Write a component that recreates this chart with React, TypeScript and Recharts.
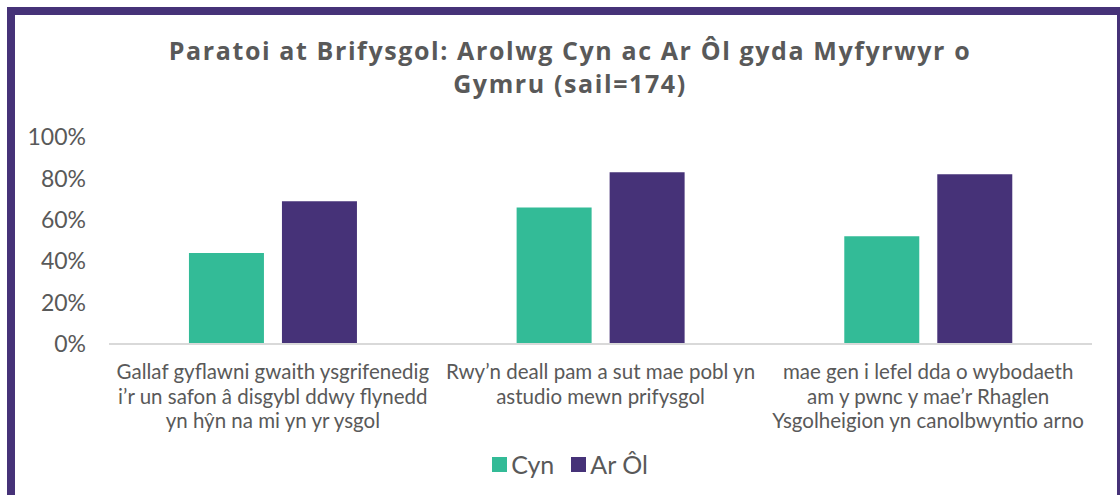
import React from "react";
import { BarChart, Bar, XAxis, YAxis, Legend } from "recharts";

const categories = [
  "Gallaf gyflawni gwaith ysgrifenedig\ni’r un safon â disgybl ddwy flynedd\nyn hŷn na mi yn yr ysgol",
  "Rwy’n deall pam a sut mae pobl yn\nastudio mewn prifysgol",
  "mae gen i lefel dda o wybodaeth\nam y pwnc y mae’r Rhaglen\nYsgolheigion yn canolbwyntio arno",
];
const cyn = [0.44, 0.66, 0.52];
const arOl = [0.69, 0.83, 0.82];
const yTicks = [0, 0.2, 0.4, 0.6, 0.8, 1];
const seriesKeys = ["cyn", "arOl"];
const seriesNames = ["Cyn", "Ar Ôl"];
const titleLines = ["Paratoi at Brifysgol: Arolwg Cyn ac Ar Ôl gyda Myfyrwyr o", "Gymru (sail=174)"];

const data = categories.map((c, i) => ({ name: c, cyn: cyn[i], arOl: arOl[i] }));

const GREEN = "#33BB97";
const PURPLE = "#463278";
const TEXT = "#595959";
const FONT = "Lato, 'Liberation Sans', sans-serif";
const TITLE_FONT = "'Open Sans', 'DejaVu Sans', sans-serif";

const CatTick = (props: any) => {
  const { x, y, payload } = props;
  const lines = String(payload.value).split("\n");
  return (
    <text x={x} y={y} textAnchor="middle" fill={TEXT} fontSize={20.5} fontFamily={FONT}>
      {lines.map((l, i) => (
        <tspan key={i} x={x} dy={i === 0 ? 35 : 24.5}>
          {l}
        </tspan>
      ))}
    </text>
  );
};

const LegendContent = (props: any) => {
  const payload = [...(props.payload || [])].sort(
    (a: any, b: any) => seriesKeys.indexOf(a.dataKey) - seriesKeys.indexOf(b.dataKey)
  );
  return (
    <div style={{ display: "flex", justifyContent: "center", alignItems: "center", gap: 17 }}>
      {payload.map((p: any) => (
        <div key={p.value} style={{ display: "flex", alignItems: "center" }}>
          <span style={{ display: "inline-block", width: 15, height: 15, background: p.color, marginRight: 4 }} />
          <span style={{ color: TEXT, fontFamily: FONT, fontSize: 25, lineHeight: "26px" }}>{p.value}</span>
        </div>
      ))}
    </div>
  );
};

export default function App() {
  return (
    <div style={{ position: "absolute", left: 0, top: 0, width: 1120, height: 495, overflow: "hidden", background: "#fff" }}>
      <div
        style={{
          position: "absolute",
          left: 7,
          top: 7,
          width: 1118,
          height: 600,
          boxSizing: "border-box",
          border: `8px solid ${PURPLE}`,
          background: "#fff",
        }}
      />
      <div
        style={{
          position: "absolute",
          left: 10,
          top: 34,
          width: 1120,
          textAlign: "center",
          fontFamily: TITLE_FONT,
          fontWeight: 700,
          fontSize: 25,
          letterSpacing: "1.6px",
          lineHeight: "33px",
          color: TEXT,
        }}
      >
        {titleLines.map((t, i) => (
          <div key={i}>{t}</div>
        ))}
      </div>
      <div style={{ position: "absolute", left: 0, top: 0 }}>
        <BarChart
          width={1120}
          height={495}
          data={data}
          margin={{ top: 137, right: 28, bottom: 51, left: 0 }}
          barCategoryGap="24.4%"
          barGap={18}
        >
          <XAxis
            dataKey="name"
            tick={<CatTick />}
            tickLine={false}
            tickSize={0}
            tickMargin={0}
            axisLine={{ stroke: "#D9D9D9", strokeWidth: 2 }}
            height={100}
            interval={0}
          />
          <YAxis
            domain={[0, 1]}
            ticks={yTicks}
            tickFormatter={(v: number) => `${Math.round(v * 100)}%`}
            axisLine={false}
            tickLine={false}
            tickSize={0}
            tickMargin={23}
            width={109}
            tick={{ fill: TEXT, fontSize: 23, fontFamily: FONT }}
          />
          <Legend
            verticalAlign="middle"
            align="center"
            layout="horizontal"
            content={<LegendContent />}
            wrapperStyle={{ left: 20, width: 1100, top: 451 }}
          />
          <Bar dataKey="cyn" name={seriesNames[0]} fill={GREEN} isAnimationActive={false} />
          <Bar dataKey="arOl" name={seriesNames[1]} fill={PURPLE} isAnimationActive={false} />
        </BarChart>
      </div>
    </div>
  );
}
